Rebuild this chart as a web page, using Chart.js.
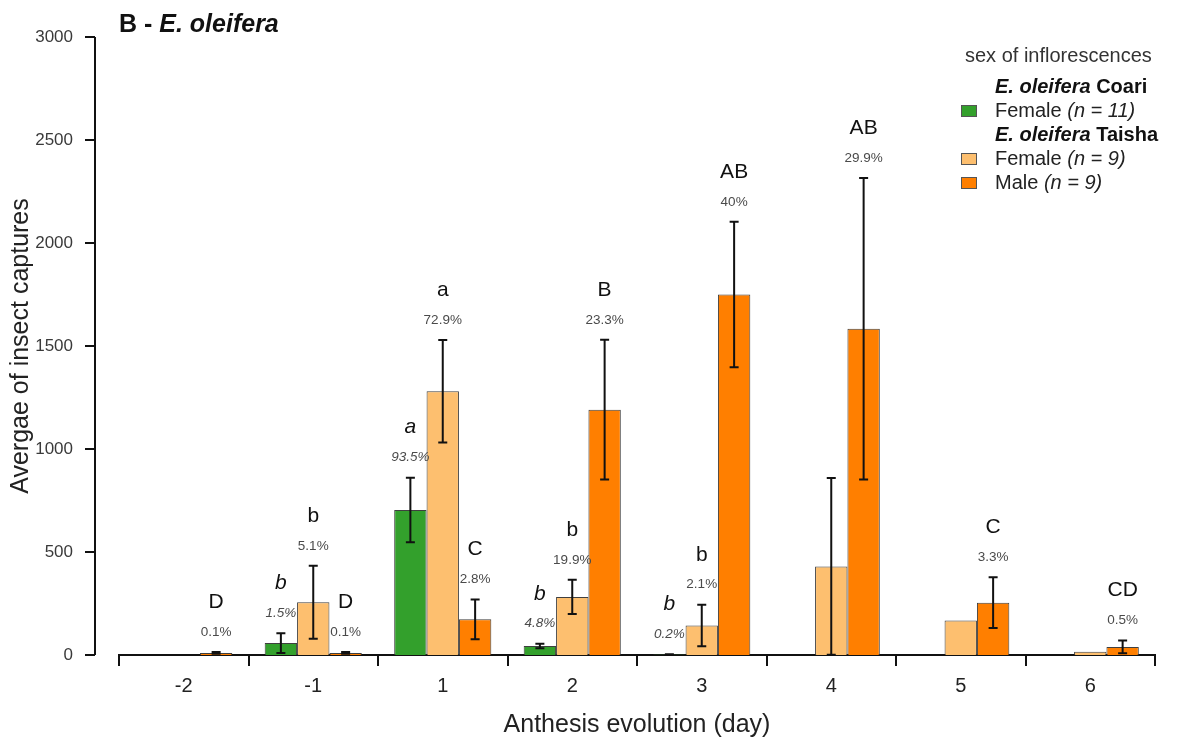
<!DOCTYPE html>
<html>
<head>
<meta charset="utf-8">
<script src="https://cdn.jsdelivr.net/npm/chart.js@4.4.1/dist/chart.umd.min.js"></script>
<style>
  html, body { margin: 0; padding: 0; background: #ffffff; }
  #wrap { width: 1178px; height: 740px; }
</style>
</head>
<body>
<div id="wrap"><canvas id="chart" width="1178" height="740"></canvas></div>
<script>
// Days of anthesis
const days = ['-2', '-1', '1', '2', '3', '4', '5', '6'];

// Mean insect captures per inflorescence type
const coariFemale  = [null, 58, 704, 44, 3, null, null, null];
const taishaFemale = [null, 256, 1280, 282, 143, 430, 167, 16];
const taishaMale   = [10, 10, 173, 1191, 1750, 1584, 254, 39];

// Error bar half-lengths
const coariFemaleErr  = [null, 48, 157, 11, 1, null, null, null];
const taishaFemaleErr = [null, 177, 249, 83, 101, 429, null, null];
const taishaMaleErr   = [4, 4, 96, 339, 353, 732, 123, 31];

// Significance letters and share of total captures
const coariLetters  = [null, 'b', 'a', 'b', 'b', null, null, null];
const coariShare    = [null, '1.5%', '93.5%', '4.8%', '0.2%', null, null, null];
const femaleLetters = [null, 'b', 'a', 'b', 'b', null, null, null];
const femaleShare   = [null, '5.1%', '72.9%', '19.9%', '2.1%', null, null, null];
const maleLetters   = ['D', 'D', 'C', 'B', 'AB', 'AB', 'C', 'CD'];
const maleShare     = ['0.1%', '0.1%', '2.8%', '23.3%', '40%', '29.9%', '3.3%', '0.5%'];

// Value axis range
const yMin = 0;
const yMax = 3000;
const yStep = 500;

const FONT = '"Liberation Sans", Arial, Helvetica, sans-serif';
const GREEN = '#33a02c';
const LIGHT_ORANGE = '#fdbf6f';
const ORANGE = '#ff7f00';

// Error bars plus letter / percentage annotations above each bar
const annotate = {
  id: 'annotate',
  afterDatasetsDraw(chart) {
    const ctx = chart.ctx;
    const y = chart.scales.y;
    chart.data.datasets.forEach((ds, i) => {
      const meta = chart.getDatasetMeta(i);
      ds.data.forEach((v, j) => {
        if (v == null) return;
        const x = meta.data[j].x;
        const e = ds.errors[j];
        let top = y.getPixelForValue(v);
        if (e != null) {
          const yt = y.getPixelForValue(v + e);
          const yb = y.getPixelForValue(Math.max(0, v - e));
          ctx.save();
          ctx.strokeStyle = '#111';
          ctx.lineWidth = 2;
          ctx.beginPath();
          ctx.moveTo(x, yt); ctx.lineTo(x, yb);
          ctx.moveTo(x - 4.5, yt); ctx.lineTo(x + 4.5, yt);
          ctx.moveTo(x - 4.5, yb); ctx.lineTo(x + 4.5, yb);
          ctx.stroke();
          ctx.restore();
          top = yt;
        }
        const slant = ds.italicLabels ? 'italic ' : '';
        ctx.save();
        ctx.textAlign = 'center';
        ctx.textBaseline = 'middle';
        if (ds.shares[j]) {
          ctx.font = slant + '13.5px ' + FONT;
          ctx.fillStyle = '#4a4a4a';
          ctx.fillText(ds.shares[j], x, top - 20);
        }
        if (ds.letters[j]) {
          ctx.font = slant + '21px ' + FONT;
          ctx.fillStyle = '#111';
          ctx.fillText(ds.letters[j], x, top - 50);
        }
        ctx.restore();
      });
    });
  }
};

// Detached value axis line with outward ticks
const valueAxis = {
  id: 'valueAxis',
  afterDraw(chart) {
    const ctx = chart.ctx;
    const y = chart.scales.y;
    const ax = 95;
    ctx.save();
    ctx.strokeStyle = '#111';
    ctx.lineWidth = 2;
    ctx.beginPath();
    ctx.moveTo(ax, y.getPixelForValue(yMin));
    ctx.lineTo(ax, y.getPixelForValue(yMax));
    y.ticks.forEach(t => {
      const py = y.getPixelForValue(t.value);
      ctx.moveTo(ax - 10, py);
      ctx.lineTo(ax, py);
    });
    ctx.stroke();
    ctx.restore();
  }
};

function drawRuns(ctx, x, y, runs) {
  runs.forEach(([text, font, color]) => {
    ctx.font = font;
    ctx.fillStyle = color;
    ctx.fillText(text, x, y);
    x += ctx.measureText(text).width;
  });
}

// Panel title and grouped legend
const heading = {
  id: 'heading',
  afterDraw(chart) {
    const ctx = chart.ctx;
    const ds = chart.data.datasets;
    ctx.save();
    ctx.textAlign = 'left';
    ctx.textBaseline = 'alphabetic';
    drawRuns(ctx, 119, 32, [
      ['B - ', 'bold 25px ' + FONT, '#111'],
      ['E. oleifera', 'italic bold 25px ' + FONT, '#111']
    ]);

    ctx.textBaseline = 'middle';
    const tx = 995, bx = 961;
    drawRuns(ctx, 965, 56, [['sex of inflorescences', '20px ' + FONT, '#333']]);
    drawRuns(ctx, tx, 87, [
      ['E. oleifera', 'italic bold 20px ' + FONT, '#111'],
      [' Coari', 'bold 20px ' + FONT, '#111']
    ]);
    drawRuns(ctx, tx, 135, [
      ['E. oleifera', 'italic bold 20px ' + FONT, '#111'],
      [' Taisha', 'bold 20px ' + FONT, '#111']
    ]);
    const rows = [
      [0, 111, 'Female ', '(n = 11)'],
      [1, 159, 'Female ', '(n = 9)'],
      [2, 183, 'Male ', '(n = 9)']
    ];
    rows.forEach(([k, cy, a, b]) => {
      ctx.fillStyle = ds[k].backgroundColor;
      ctx.fillRect(bx, cy - 6, 16, 12);
      ctx.strokeStyle = '#555';
      ctx.lineWidth = 1;
      ctx.strokeRect(bx + 0.5, cy - 5.5, 15, 11);
      drawRuns(ctx, tx, cy, [
        [a, '20px ' + FONT, '#222'],
        [b, 'italic 20px ' + FONT, '#222']
      ]);
    });
    ctx.restore();
  }
};

const barStyle = {
  borderColor: '#3f3f3f',
  borderWidth: 1,
  barPercentage: 1,
  categoryPercentage: 0.75
};

new Chart(document.getElementById('chart'), {
  type: 'bar',
  data: {
    labels: days,
    datasets: [
      Object.assign({
        label: 'E. oleifera Coari - Female',
        data: coariFemale,
        errors: coariFemaleErr,
        letters: coariLetters,
        shares: coariShare,
        italicLabels: true,
        backgroundColor: GREEN
      }, barStyle),
      Object.assign({
        label: 'E. oleifera Taisha - Female',
        data: taishaFemale,
        errors: taishaFemaleErr,
        letters: femaleLetters,
        shares: femaleShare,
        italicLabels: false,
        backgroundColor: LIGHT_ORANGE
      }, barStyle),
      Object.assign({
        label: 'E. oleifera Taisha - Male',
        data: taishaMale,
        errors: taishaMaleErr,
        letters: maleLetters,
        shares: maleShare,
        italicLabels: false,
        backgroundColor: ORANGE
      }, barStyle)
    ]
  },
  options: {
    responsive: false,
    devicePixelRatio: 1,
    animation: false,
    layout: { padding: { top: 37, right: 23, bottom: 0, left: 0 } },
    plugins: {
      legend: { display: false },
      tooltip: { enabled: false },
      title: { display: false }
    },
    scales: {
      x: {
        offset: true,
        grid: {
          display: true,
          offset: true,
          drawOnChartArea: false,
          drawTicks: true,
          tickLength: 11,
          color: '#111',
          lineWidth: 2
        },
        border: { display: true, color: '#111', width: 2 },
        ticks: {
          color: '#222',
          padding: 8,
          maxRotation: 0,
          autoSkip: false,
          font: { family: FONT, size: 20 }
        },
        title: {
          display: true,
          text: 'Anthesis evolution (day)',
          color: '#222',
          font: { family: FONT, size: 25 },
          padding: { top: 0, bottom: 0 }
        },
        afterFit(scale) { scale.height = 85; }
      },
      y: {
        min: yMin,
        max: yMax,
        // hidden tick marks reserve the gap between labels and the plot
        grid: { display: false, drawTicks: true, tickLength: 40 },
        border: { display: false },
        ticks: {
          stepSize: yStep,
          padding: 6,
          color: '#3a3a3a',
          font: { family: FONT, size: 17 },
          callback: (v) => String(v)
        },
        title: {
          display: true,
          text: 'Avergae of insect captures',
          color: '#222',
          font: { family: FONT, size: 25 },
          padding: { top: 6, bottom: 0 }
        },
        afterFit(scale) { scale.width = 119; }
      }
    }
  },
  plugins: [annotate, valueAxis, heading]
});
</script>
</body>
</html>
